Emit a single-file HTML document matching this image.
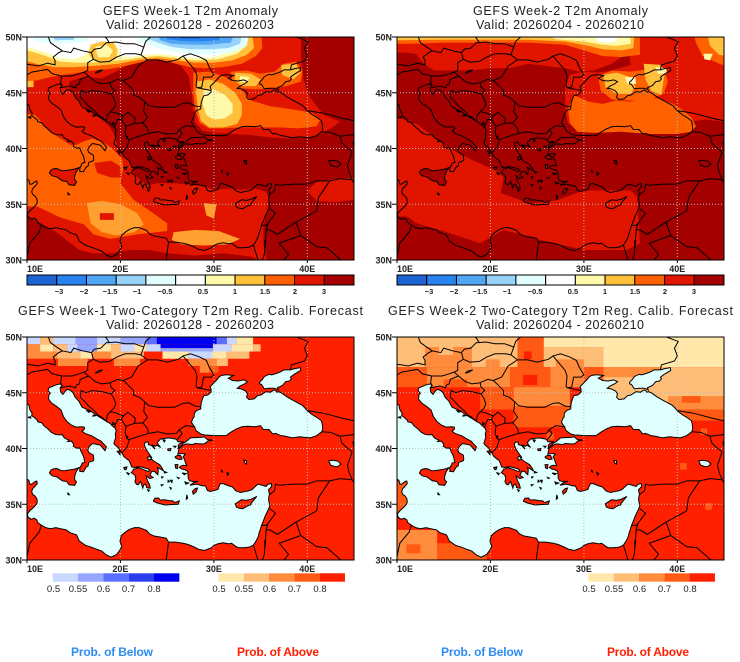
<!DOCTYPE html>
<html><head><meta charset="utf-8">
<style>
html,body{margin:0;padding:0;background:#fff}
svg{display:block}
text{font-family:"Liberation Sans",Arial,sans-serif;fill:#222}
</style></head>
<body>
<svg width="740" height="662" viewBox="0 0 740 662">
<defs>
<g id="seas">
<path vector-effect="non-scaling-stroke" d="M9,44.2 L9.8,44.1 10.2,43.9 10.3,43.5 10.55,43.15 10.5,42.95 10.75,42.8 11.1,42.55 11.15,42.4 11.6,42.3 11.8,42.05 12.25,41.75 12.6,41.45 13.05,41.25 13.55,41.22 13.75,41.25 14.0,40.95 14.3,40.82 14.5,40.75 14.35,40.62 14.75,40.66 15.0,40.4 14.95,40.2 15.3,40.03 15.65,40.05 15.8,39.7 16.05,39.3 16.15,38.9 16.2,38.75 15.9,38.7 15.85,38.55 15.65,38.25 15.65,37.95 16.05,37.92 16.3,38.3 16.55,38.45 16.6,38.75 17.1,38.9 17.15,39.05 17.1,39.4 16.6,39.65 16.5,39.9 16.65,40.15 17.0,40.45 17.3,40.4 17.85,40.3 18.05,40.1 18.35,39.8 18.45,40.0 18.5,40.15 18.1,40.5 17.95,40.65 17.5,40.85 16.9,41.15 16.2,41.35 15.9,41.55 16.15,41.75 16.15,41.9 15.9,41.95 15.25,41.92 14.75,42.1 14.3,42.4 13.9,42.85 13.65,43.45 13.2,43.75 12.6,44.1 12.3,44.45 12.35,44.8 12.5,44.95 12.25,45.2 12.35,45.45 12.65,45.55 13.1,45.7 13.55,45.8 13.75,45.65 13.55,45.45 13.6,45.1 13.85,44.85 14.05,45.1 14.3,45.3 14.55,45.25 14.9,45.05 15.15,44.6 15.55,44.25 15.9,43.7 16.45,43.5 17.0,43.25 17.5,42.95 18.1,42.65 18.55,42.4 18.9,42.25 19.1,42.05 19.4,41.85 19.55,41.6 19.45,41.3 19.5,41.0 19.4,40.75 19.3,40.45 19.45,40.3 19.8,40.05 20.05,39.7 20.2,39.55 20.35,39.3 20.7,39.05 20.9,38.95 21.05,38.7 21.2,38.35 21.55,38.3 21.8,38.35 21.7,38.2 21.4,38.15 21.3,37.95 21.15,37.85 21.55,37.6 21.65,37.3 21.55,37.05 21.7,36.8 21.9,36.75 22.15,37.05 22.4,36.45 22.5,36.75 22.7,36.8 22.8,36.5 23.0,36.45 23.2,36.45 23.1,36.8 22.9,37.1 22.75,37.55 23.15,37.3 23.5,37.4 23.15,37.6 23.35,37.95 23.65,37.95 23.75,37.85 24.0,37.65 24.05,38.05 23.95,38.3 24.2,38.2 24.6,38.0 24.5,38.2 24.2,38.55 23.7,38.8 23.3,39.05 23.0,38.95 22.9,39.2 23.1,39.3 23.3,39.1 23.35,39.2 23.0,39.6 22.7,40.0 22.55,40.35 22.65,40.55 22.95,40.6 23.0,40.35 23.35,40.25 23.7,39.95 23.45,40.3 23.75,40.2 23.9,40.3 24.3,40.1 24.05,40.35 23.95,40.55 24.3,40.85 24.6,40.9 25.2,40.95 25.9,40.85 26.05,40.75 26.15,40.6 26.8,40.6 26.35,40.45 26.2,40.3 26.2,40.05 26.25,39.95 26.15,39.5 26.6,39.55 26.95,39.5 26.7,39.25 26.85,39.05 26.95,38.75 27.1,38.45 26.75,38.5 26.5,38.45 26.3,38.3 26.6,38.15 26.9,38.1 27.2,37.95 27.25,37.6 27.25,37.35 27.4,37.1 27.7,37.05 28.3,37.05 27.85,36.95 27.45,36.7 28.1,36.8 28.4,36.75 28.8,36.65 29.1,36.65 29.3,36.25 29.6,36.15 30.15,36.25 30.45,36.35 30.55,36.6 30.7,36.85 31.0,36.85 31.6,36.65 32.0,36.55 32.35,36.2 32.85,36.05 33.4,36.15 33.7,36.2 34.05,36.3 34.45,36.6 34.7,36.8 35.0,36.75 35.6,36.6 35.8,36.8 36.15,36.85 36.2,36.6 35.85,36.3 35.95,35.9 35.85,35.5 35.9,35.2 36.0,34.9 35.85,34.55 35.5,33.95 35.3,33.5 35.1,33.1 35.0,32.8 34.85,32.45 34.75,32.1 34.55,31.75 34.25,31.35 33.8,31.15 33.2,31.1 32.6,31.1 32.3,31.25 31.9,31.5 31.6,31.45 31.0,31.55 30.4,31.45 30.0,31.3 29.75,31.1 29.0,30.85 28.4,30.95 27.8,31.2 27.2,31.4 26.7,31.5 25.9,31.6 25.15,31.6 24.9,31.95 24.3,32.05 23.6,32.15 23.1,32.35 22.8,32.65 22.0,32.9 21.5,32.9 21.0,32.75 20.6,32.55 20.1,32.2 19.95,31.7 20.15,31.2 19.95,30.9 19.6,30.5 19.0,30.25 18.5,30.45 18.0,30.8 17.5,30.95 16.9,31.15 16.3,31.3 15.6,31.7 15.3,32.25 14.6,32.45 14.2,32.7 13.6,32.8 13.1,32.9 12.5,32.8 12.0,32.9 11.5,33.15 11.15,33.35 11.05,33.6 10.75,33.75 10.45,33.65 10.1,33.85 10.05,34.15 10.35,34.45 10.75,34.75 11.05,35.05 11.1,35.25 11.05,35.5 10.85,35.75 10.65,35.85 10.5,36.1 10.6,36.4 10.85,36.6 11.1,36.85 11.05,37.08 10.9,37.05 10.5,36.8 10.3,36.8 10.2,37.15 9.9,37.3 9,37.3 Z"/>
<path vector-effect="non-scaling-stroke" d="M29.05,41.2 L28.6,41.3 28.1,41.6 27.95,41.9 27.6,42.35 27.75,42.7 27.9,42.85 27.9,43.15 28.15,43.4 28.6,43.55 28.6,43.75 28.65,44.1 28.8,44.5 28.95,44.75 29.35,44.8 29.7,45.05 29.7,45.3 29.6,45.55 29.95,45.85 30.25,46.1 30.55,46.4 30.8,46.55 31.2,46.6 31.5,46.6 32.1,46.55 31.55,46.3 32.0,46.1 32.6,46.05 33.2,46.15 33.6,46.0 33.3,45.8 32.8,45.6 32.5,45.4 32.9,45.35 33.4,45.15 33.6,44.9 33.5,44.6 33.75,44.4 34.3,44.45 34.7,44.75 35.05,44.8 35.4,45.0 35.6,45.1 36.05,45.05 36.45,45.25 36.6,45.2 36.75,45.05 36.95,45.1 37.3,44.95 37.8,44.65 38.3,44.4 38.85,44.15 39.5,43.85 40.0,43.4 40.5,43.05 41.0,42.8 41.5,42.5 41.6,42.2 41.65,41.75 41.55,41.5 41.0,41.15 40.3,40.95 39.7,41.0 39.2,41.05 38.4,40.95 37.65,41.1 37.2,41.15 36.6,41.35 36.3,41.3 35.9,41.7 35.3,41.7 35.0,42.05 34.4,41.95 33.6,42.0 33.0,41.95 32.4,41.75 31.8,41.45 31.3,41.15 30.6,41.15 30.0,41.15 29.35,41.2 Z"/>
<path vector-effect="non-scaling-stroke" d="M35.1,45.75 L35.4,45.35 35.9,45.4 36.45,45.4 36.65,45.35 36.9,45.25 36.8,45.45 37.35,45.65 37.7,46.0 38.1,46.05 38.3,46.25 38.2,46.4 38.6,46.65 39.3,47.0 39.25,47.25 38.6,47.15 38.2,47.05 37.5,47.05 37.2,46.9 36.75,46.75 36.2,46.6 35.9,46.65 35.4,46.45 35.2,46.2 34.9,45.95 34.9,45.8 Z"/>
<path vector-effect="non-scaling-stroke" d="M26.2,40.05 L26.4,40.2 26.6,40.35 26.7,40.45 27.0,40.6 27.5,40.95 27.9,40.98 28.6,41.0 29.0,41.05 29.1,40.95 29.3,40.8 29.9,40.75 29.4,40.7 29.05,40.45 28.8,40.4 28.0,40.45 27.7,40.35 27.3,40.4 27.0,40.4 26.7,40.3 26.4,40.05 Z"/>
<path vector-effect="non-scaling-stroke" d="M21.8,38.35 L22.2,38.35 22.6,38.25 22.95,38.2 23.15,38.0 22.9,37.95 22.5,38.1 22.0,38.25 21.75,38.3 Z"/>
<path vector-effect="non-scaling-stroke" d="M42.3,38.9 L42.8,38.95 43.3,38.85 43.6,38.6 43.2,38.35 42.9,38.4 42.5,38.5 Z M33.2,38.95 L33.5,38.9 33.5,38.6 33.35,38.65 Z M31.4,37.85 L31.6,37.75 31.45,37.6 Z M30.85,38.05 L30.95,37.85 30.8,37.95 Z M17.3,46.75 L17.6,46.95 18.1,47.05 17.7,46.85 Z M44.9,40.6 L45.4,40.45 45.2,40.2 44.95,40.25 Z M35.45,31.75 L35.55,31.75 35.45,31.1 Z M20.7,41.1 L20.8,41.1 20.75,40.95 Z M19.2,42.35 L19.4,42.2 19.15,42.15 Z"/>
</g>
<g id="isles">
<path id="sicily" vector-effect="non-scaling-stroke" d="M12.4,37.8 L12.55,38.05 12.75,38.15 13.1,38.2 13.35,38.15 13.7,38.0 14.1,38.02 14.6,38.08 15.1,38.15 15.55,38.28 15.25,37.9 15.1,37.5 15.1,37.2 15.3,37.0 15.1,36.7 14.5,36.75 14.25,37.05 13.8,37.1 13.2,37.45 12.7,37.55 Z"/>
<path vector-effect="non-scaling-stroke" d="M23.55,35.35 L23.7,35.55 24.1,35.55 24.25,35.37 24.7,35.4 25.2,35.33 25.6,35.3 25.8,35.15 26.3,35.3 26.2,35.0 25.5,34.98 24.8,34.93 24.0,35.1 23.55,35.25 Z"/>
<path vector-effect="non-scaling-stroke" d="M32.3,35.05 L32.5,35.15 32.95,35.4 33.5,35.35 34.0,35.45 34.6,35.7 34.0,35.1 33.95,34.95 33.6,34.85 33.1,34.6 32.7,34.65 32.4,34.75 Z"/>
<path vector-effect="non-scaling-stroke" d="M27.7,36.15 L28.0,36.4 28.25,36.45 28.1,36.1 27.8,35.9 Z M25.85,39.25 L26.15,39.4 26.45,39.35 26.6,39.05 26.3,39.0 25.9,39.15 Z M25.85,38.55 L26.15,38.55 26.1,38.2 25.9,38.25 Z M26.6,37.8 L27.05,37.75 26.85,37.65 Z M25.05,39.95 L25.4,40.0 25.35,39.8 25.1,39.82 Z M24.55,40.78 L24.8,40.75 24.7,40.58 Z M25.35,37.15 L25.55,37.15 25.5,36.95 Z M19.65,39.75 L19.95,39.8 19.95,39.45 Z M20.35,38.3 L20.7,38.35 20.6,38.1 20.45,38.1 Z M20.65,37.85 L20.95,37.75 20.85,37.65 Z M27.1,35.85 L27.2,35.55 27.05,35.45 Z M24.7,37.95 L24.95,37.85 24.7,37.8 Z M25.1,37.15 L25.25,37.05 25.1,36.98 Z M24.35,36.75 L24.55,36.75 24.4,36.65 Z M22.9,36.3 L23.1,36.25 23.0,36.15 Z M10.1,42.8 L10.4,42.85 10.4,42.72 Z M14.35,36.05 L14.55,35.85 14.4,35.85 Z M25.7,40.2 L25.95,40.2 25.85,40.1 Z M16.4,43.4 L16.9,43.35 16.6,43.25 Z M17.1,43.0 L17.4,42.95 17.05,42.9 Z M26.9,37.0 L27.3,36.9 27.0,36.8 Z M25.3,36.5 L25.45,36.45 25.4,36.35 Z M24.4,37.45 L24.55,37.45 24.45,37.35 Z M26.1,37.4 L26.3,37.35 26.2,37.3 Z"/>
</g>
<path id="bord" vector-effect="non-scaling-stroke" d="M10,47.55 L10.5,47.5 11.2,47.4 12.2,47.65 13.0,47.5 13.0,47.9 12.8,48.2 13.4,48.6 13.8,48.75 M13.8,48.75 L13.0,49.2 12.5,49.5 12.2,50.2 M13.8,48.75 L14.7,48.6 15.0,49.0 16.0,48.75 16.9,48.6 M16.9,48.6 L17.2,48.9 17.9,49.0 18.5,49.5 18.8,49.5 M18.8,49.5 L18.5,49.9 18.0,50.2 M18.8,49.5 L19.5,49.55 20.5,49.4 21.5,49.4 22.5,49.1 M17.1,48.0 L17.8,47.75 18.8,47.8 19.6,48.2 20.5,48.5 21.6,48.5 22.2,48.4 M22.2,48.4 L22.5,49.1 M22.5,49.1 L22.7,49.6 23.5,50.2 M16.9,48.6 L17.1,48.0 16.5,47.7 16.5,47.0 16.1,46.85 M9,46.4 L10,46.6 10.5,46.85 11.5,47.0 12.2,47.1 12.7,46.7 13.7,46.5 M13.7,46.5 L14.8,46.5 15.6,46.7 16.1,46.85 M13.7,46.5 L13.6,45.9 13.8,45.6 M16.1,46.85 L16.6,46.5 M16.6,46.5 L15.7,46.2 15.6,45.8 15.3,45.7 15.2,45.45 14.6,45.6 13.6,45.45 M16.6,46.5 L17.3,46.0 18.0,45.8 18.9,45.9 M18.9,45.9 L19.0,45.5 19.4,45.2 19.0,44.9 M19.0,44.9 L18.0,45.1 17.0,45.2 16.3,45.0 15.8,45.2 15.7,44.6 16.2,44.2 16.6,43.8 17.2,43.4 17.6,43.0 18.0,42.8 18.5,42.45 M19.0,44.9 L19.3,44.5 19.5,44.0 19.3,43.6 18.9,43.3 M18.9,43.3 L18.6,43.0 18.5,42.45 M18.9,43.3 L19.5,43.2 20.3,42.9 20.1,42.6 M20.1,42.6 L19.7,42.6 19.4,42.0 19.4,41.85 M20.1,42.6 L20.6,42.0 20.5,41.4 20.7,40.9 20.95,40.8 M20.95,40.8 L20.7,40.1 20.2,39.65 M20.95,40.8 L22.0,41.1 23.0,41.35 24.0,41.5 25.0,41.3 26.0,41.35 26.3,41.7 M26.3,41.7 L26.6,41.35 26.3,41.0 26.1,40.8 M26.3,41.7 L27.0,42.05 27.5,42.0 28.0,41.95 M20.1,42.6 L20.3,42.9 20.8,43.25 21.6,42.7 21.5,42.25 M20.6,42.0 L21.5,42.25 22.4,42.3 M22.4,42.3 L22.9,41.8 23.0,41.35 M22.4,42.3 L22.9,42.8 22.5,43.3 22.6,44.2 M22.6,44.2 L22.0,44.6 21.4,44.8 21.4,45.2 20.7,45.8 20.3,46.1 M18.9,45.9 L19.7,46.2 20.3,46.1 M20.3,46.1 L21.2,46.4 21.9,47.4 22.9,47.95 M22.2,48.4 L22.9,47.95 M22.9,47.95 L24.0,47.95 25.0,47.75 26.2,48.0 26.7,48.3 M26.7,48.3 L27.3,47.7 28.0,47.0 28.2,46.5 28.1,45.6 28.2,45.45 M28.2,45.45 L29.7,45.2 M26.7,48.3 L27.5,48.5 28.5,48.2 29.2,47.9 29.5,47.3 30.0,46.6 29.7,46.4 28.9,46.4 28.7,45.5 28.2,45.45 M22.6,44.2 L23.0,43.85 24.0,43.7 25.0,43.7 25.8,43.7 26.7,44.05 27.3,44.1 28.0,43.8 28.6,43.75 M41.55,41.5 L42.5,41.45 43.5,41.1 M43.5,41.1 L43.7,40.5 44.2,40.1 44.8,39.7 M44.8,39.7 L44.3,38.5 44.5,37.8 44.8,37.2 M44.8,37.2 L43.5,37.3 42.4,37.1 M42.4,37.1 L41.0,37.1 40.0,36.8 38.5,36.8 37.0,36.7 36.6,36.8 36.5,36.2 36.0,35.9 M36.0,34.6 L36.6,34.2 35.9,33.4 35.6,33.1 M35.1,33.1 L35.6,33.1 35.8,33.3 35.6,32.7 36.0,32.7 36.8,32.3 38.8,33.4 M38.8,33.4 L41.0,34.4 41.2,35.6 42.4,37.1 M38.8,33.4 L39.3,32.2 M39.3,32.2 L37.0,31.5 38.0,30.5 37.5,30.0 37.0,29.5 M35.6,32.7 L35.5,31.5 35.4,30.5 35.0,29.5 M34.25,31.3 L34.9,29.5 M39.3,32.2 L41,31.2 42.1,31.1 44.7,29.2 M44.8,37.2 L45.3,36.5 M25.15,31.6 L24.9,30.0 24.9,29 M11.55,33.15 L11.3,32.5 10.3,31.5 10.0,30.3 M40.0,43.4 L41.5,43.2 42.5,43.0 43.8,42.7 45.5,42.4 M43.5,41.1 L44.5,41.2 45.5,41.3 M38.2,47.1 L38.3,47.5 39.7,47.85 40.0,48.3 39.7,49.0 40.1,49.6 38.2,50.2"/>
</defs>

<!-- ===================== PANEL 1 ===================== -->
<text x="103" y="15" font-size="12.5" textLength="175">GEFS Week-1 T2m Anomaly</text>
<text x="106" y="29" font-size="12.5" textLength="168">Valid: 20260128 - 20260203</text>
<svg x="27" y="37" width="327" height="223" viewBox="10 -50 35 20" preserveAspectRatio="none">
<g transform="scale(1,-1)">
<rect x="9" y="29" width="37" height="22" fill="#e11400"/>
<polygon fill="#a50000" points="14.5,46.0 16,46.4 18,46.3 19.5,46.9 21,47.6 23,47.9 25,47.9 26.5,47.4 27.3,46.5 27.6,45 27.8,43.5 28,42.3 28.8,41.6 30,41.4 32,41.3 34,41.2 36,41.0 38,40.9 40,41.0 41.5,41.3 42.5,41.8 43.5,42.4 45,42.6 46,42.6 46,37.4 43,37.3 41,37.0 40,36.2 41,35.3 43,35.2 46,35.5 46,29 36,29 35.5,30.6 35.3,31.5 35.3,33 35.7,34.5 35.9,35.5 35.6,36.1 34.5,36.4 33,36.3 31.5,36.4 30,36.3 29,36.6 28,36.7 27,36.8 25.5,36.9 24,36.9 23,36.7 22.3,37 21.6,37.6 21.2,38.3 20.8,39 20.2,39.6 19.6,40.4 19.3,41.3 18.8,42.0 18.0,42.6 17.2,43.1 16.3,43.6 15.5,44.2 15.0,44.9 14.5,45.5"/>
<polygon fill="#a50000" points="9,29 9,34.0 10,34.0 11.5,33.3 13,32.6 14.5,31.6 15.6,30.9 17,30.6 19,30.6 21,30.9 23,30.9 25,30.6 28,30.4 31,30.6 34,30.3 36,29.5 36,29"/>
<polygon fill="#a50000" points="39.5,51 46,51 46,42.6 43.5,42.4 41.8,43.0 40.8,44.0 40.0,45.0 39.6,46.2 39.4,47.5 39.3,49"/>
<polygon fill="#ff6000" points="9,43.3 10.9,43.0 11.6,42.3 12.3,41.6 13.2,41.1 14,40.7 14.7,40.3 15.2,40.3 16,40.6 17,40.9 18,40.6 18.8,40.2 19.5,39.7 20.2,39.0 20.3,38.2 20,36.9 21.4,35.4 23,34.5 25,33.3 25,32.6 21.8,32.3 18.9,31.9 17.1,32.3 16.1,33.2 13.6,33.8 11.1,34.8 9,34.8"/>
<polygon fill="#e11400" points="17.2,38.7 19,38.9 20.0,38.4 20.1,37.4 19,37.4 17.5,37.8"/>
<polygon fill="#ffa030" points="16.4,35.1 18,35.3 20,35.0 21.8,34.2 22.5,33.2 21.5,32.5 19.5,32.2 18,32.5 16.8,33.3"/>
<polygon fill="#e11400" points="17.8,34.2 19.3,34.2 19.3,33.6 17.8,33.6"/>
<polygon fill="#ffa030" points="25.7,32.5 28,32.7 30.5,32.6 32.8,31.9 31.5,31.4 29,31.3 26.5,31.4 25.5,31.8"/>
<polygon fill="#ffa030" points="28.9,35.1 30.3,35.0 30,33.7 29.2,34.0"/>
<polygon fill="#ffc03c" points="9,46.6 10.7,46.6 10.7,45.5 9,45.5"/>
<polygon fill="#ff6000" points="27.8,46.8 29.5,46.9 31,46.5 32.5,45.8 33.2,45.0 34,44.3 36,43.8 38.5,43.5 40.5,43.2 41.4,42.6 41,42.0 39,41.8 37,41.9 35,41.9 33,41.9 31,41.8 29.5,41.8 28.5,42.3 28.0,43.5 27.8,45"/>
<polygon fill="#ffc03c" points="28.2,46.0 29.5,46.2 31,45.8 32.3,45.0 33,44 33,43 32.5,42.2 31,41.9 29.5,41.9 28.6,42.5 28.3,43.5 28.1,45"/>
<polygon fill="#fffaaa" points="28.9,45.2 30,45.3 31.2,44.8 32,44 32,43.2 31.2,42.7 30,42.6 29.2,43 28.8,44"/>
<polygon fill="#ff6000" points="31.8,46.9 33.5,47.0 35,46.7 36.5,46.9 37.5,47.6 38.8,47.8 39.5,47 39.3,46.0 37.8,45.6 36.2,45.4 34.5,45.3 33,45.4 32,45.9"/>
<polygon fill="#ffc03c" points="32.3,46.8 34,46.7 35,46.2 34.5,45.6 33,45.6 32.2,46.1"/>
<polygon fill="#ffc03c" points="37.2,47.5 38.8,47.6 39.3,46.8 38.5,46.2 37.3,46.6"/>
<polygon fill="#fffaaa" points="32.8,46.5 33.8,46.4 33.5,45.9 32.8,46.0"/>
<polygon fill="#ff6000" points="9,51 35,51 35.2,49 34.5,48.3 33,47.6 31,47.3 29,47.2 27.5,47.3 26,47.6 24.5,47.9 23,47.9 21.5,47.6 20,47.3 18.5,47.1 17,47.0 15.5,46.8 14,46.6 12.5,46.4 11,46.1 9,46.0"/>
<polygon fill="#ffc03c" points="9,51 34,51 34.3,49 33.5,48.4 32,47.9 30,47.7 28,47.7 26,47.9 24,48.1 22.5,48 21,47.8 19.8,47.6 18.5,47.5 17,47.4 15,47.3 13,47.3 11.5,47.5 10,47.8 9,47.9"/>
<polygon fill="#fffaaa" points="9,51 33.5,51 33.5,49.2 32.5,48.5 30.5,48.0 28,47.9 26,48.1 24,48.3 22.5,48.2 21,48.0 19.8,47.9 18.5,47.8 17,47.7 15,47.7 13.5,47.8 12,48.3 10.5,48.7 9,48.9"/>
<polygon fill="#ffffff" points="9,51 33,51 32.8,49.3 31.5,48.6 30,48.2 28,48.1 26,48.3 24,48.5 22.5,48.4 21,48.2 20,48.3 19.8,48.9 19.3,49.5 18,49.6 16.8,49.2 16.3,48.4 15,48.0 13.5,48.1 12,48.6 10.5,49.0 9,49.2"/>
<polygon fill="#ffc03c" points="16.8,49.3 18,49.6 19.3,49.5 19.7,48.8 19.5,48.0 18.5,47.7 17.3,47.8 16.6,48.4"/>
<polygon fill="#fffaaa" points="17.3,49.1 18.5,49.3 19.2,48.8 18.8,48.2 17.6,48.2"/>
<polygon fill="#e1ffff" points="21.5,51 34,51 33.5,49.2 32.2,48.7 30.5,48.5 28.5,48.5 26.5,48.6 24.5,48.9 23,49.3 22,49.7"/>
<polygon fill="#96d2fa" points="22.5,51 33.2,51 32.8,49.4 31.5,49.0 29.5,48.9 27.5,48.9 25.5,49.1 24,49.5 23,49.8"/>
<polygon fill="#50a5f5" points="23.3,51 32.6,51 31.8,49.5 29.5,49.3 27.5,49.3 25.5,49.4 24.3,49.7"/>
<polygon fill="#2882f0" points="24.2,51 31.5,51 30.5,49.7 28.5,49.6 26.5,49.65 25,49.8"/>
<polygon fill="#1c64d2" points="25.5,51 29.5,51 28.5,49.85 26.5,49.85"/>
<polygon fill="#e1ffff" points="10.5,51 17,51 16.5,49.6 14,49.4 12,49.5 10.8,49.7"/>
<polygon fill="#96d2fa" points="12,51 15.5,51 15,49.75 13,49.7"/>
<use href="#sicily" fill="#e11400"/>
</g></svg>
<path d="M120.4,37V260M213.9,37V260M307.3,37V260M27,92.75H354M27,148.5H354M27,204.25H354" stroke="#bdbdbd" stroke-width="1" stroke-dasharray="1,2" fill="none"/>
<svg x="27" y="37" width="327" height="223" viewBox="10 -50 35 20" preserveAspectRatio="none">
<g transform="scale(1,-1)" fill="none" stroke="#000" stroke-width="1">
<use href="#seas"/><use href="#isles"/><use href="#bord"/>
</g></svg>
<rect x="27" y="37" width="327" height="223" fill="none" stroke="#000" stroke-width="1"/>

<!-- ===================== PANEL 2 ===================== -->
<text x="473" y="15" font-size="12.5" textLength="175">GEFS Week-2 T2m Anomaly</text>
<text x="476" y="29" font-size="12.5" textLength="168">Valid: 20260204 - 20260210</text>
<svg x="397" y="37" width="327" height="223" viewBox="10 -50 35 20" preserveAspectRatio="none">
<g transform="scale(1,-1)">
<rect x="9" y="29" width="37" height="22" fill="#a50000"/>
<polygon fill="#e11400" points="9,51 34.5,51 34.5,48.5 33,47.6 31,47.0 29.5,46.9 28,47.2 26,47.4 24,47.6 22,47.2 20,47.2 18,47.0 16,47.0 14,47.0 13,47.5 12,48.5 11,48.6 9,48.6"/>
<polygon fill="#e11400" points="34.5,51 46,51 46,43 45,44 43,45 41,45.5 39,46.2 37,47 35,47.5"/>
<polygon fill="#e11400" points="28.5,46.6 30,46.9 31.5,46.8 33,47 35,47.5 37,47 39,46.2 41,45.5 43,45 45,44 46,43 46,42.3 43,42.6 41.5,42.4 41.5,41.8 40,41.6 37,41.5 34,41.6 31,41.5 29.3,41.6 28.3,42.3 28,43.5 28,45.5"/>
<polygon fill="#e11400" points="9,43.1 12.1,42.2 15.4,40.1 18.2,38.9 20.7,38.0 21.4,37.4 21.1,36.0 24.3,35.05 27.1,35.35 30,36.25 35,36.25 35.7,35.65 36,31.5 34.6,30.9 30,30.9 25.3,31.8 21.4,32.7 18.9,31.5 15.7,32.4 12.1,33.3 11.1,33.9 9,33.9"/>
<use href="#sicily" fill="#a50000"/>
<polygon fill="#ff6000" points="28.9,44.8 30.5,44.2 32,44.0 33.5,44.3 35,44.2 36.5,44.6 38,44.5 39.5,44 40.5,43.5 41.5,42.8 42,42.0 41.5,41.5 40,41.3 37,41.3 34,41.5 31,41.4 29.3,41.5 28.5,42.3 28.3,43.5"/>
<polygon fill="#ff6000" points="31.5,46.5 33,47 35,46.9 37,47.1 38.5,47.2 39,46 38.5,44.9 37,44.4 35,44.3 33,44.4 31.8,45.2"/>
<polygon fill="#ffc03c" points="32.1,46.6 33.5,46.8 35,46.4 35.5,45.5 35,44.9 33.5,44.9 32.3,45.5"/>
<polygon fill="#ffc03c" points="36.4,47.6 38.3,47.5 38.6,46.5 38.3,44.8 37.2,45.2 36.6,46.2"/>
<polygon fill="#fffaaa" points="34.4,46.4 35.5,46.4 35.6,45.8 34.6,45.8"/>
<polygon fill="#fffaaa" points="37.7,47.3 38.8,47.2 38.9,46.7 37.9,46.7"/>
<polygon fill="#ffffff" points="34.8,46.3 35.3,46.3 35.3,46.0 34.9,46.0"/>
<polygon fill="#ff6000" points="9,51 36,51 36,48.4 34,48.2 32,48.3 30,48.8 28,49.3 24,49.5 20,49.5 15,49.5 12,49.4 9,49.4"/>
<polygon fill="#ffc03c" points="9,51 35.5,51 35.3,49 34,48.8 32,48.9 30.5,49.2 28,49.6 24,49.75 20,49.75 15,49.75 9,49.7"/>
<polygon fill="#fffaaa" points="24,51 35,51 35,49.4 33.5,49.2 32,49.3 30,49.6 27,49.8"/>
<polygon fill="#ffffff" points="30.5,51 33.7,51 33.5,49.6 32.5,49.5 31.5,49.6"/>
<polygon fill="#ff6000" points="41.5,51 46,51 46,47.2 44.5,47.6 42.7,48.3 42,49.5"/>
<polygon fill="#ffc03c" points="43,51 46,51 46,48.2 44.5,48.4 43.5,49.2"/>
<polygon fill="#fffaaa" points="42.8,48.5 43.8,48.5 43.5,47.9 42.9,48.0"/>
</g></svg>
<path d="M490.4,37V260M583.9,37V260M677.3,37V260M397,92.75H724M397,148.5H724M397,204.25H724" stroke="#bdbdbd" stroke-width="1" stroke-dasharray="1,2" fill="none"/>
<svg x="397" y="37" width="327" height="223" viewBox="10 -50 35 20" preserveAspectRatio="none">
<g transform="scale(1,-1)" fill="none" stroke="#000" stroke-width="1">
<use href="#seas"/><use href="#isles"/><use href="#bord"/>
</g></svg>
<rect x="397" y="37" width="327" height="223" fill="none" stroke="#000" stroke-width="1"/>

<!-- ===================== PANEL 3 ===================== -->
<text x="18" y="315" font-size="12.5" textLength="345">GEFS Week-1 Two-Category T2m Reg. Calib. Forecast</text>
<text x="106" y="329" font-size="12.5" textLength="168">Valid: 20260128 - 20260203</text>
<svg x="27" y="337" width="327" height="223" viewBox="10 -50 35 20" preserveAspectRatio="none">
<g transform="scale(1,-1)">
<rect x="9" y="29" width="37" height="22" fill="#ff2000"/>
<g>
<rect x="9" y="49.35" width="2.4" height="1.7" fill="#c8d8ff"/>
<rect x="11.4" y="49.35" width="1.4" height="1.7" fill="#ffbe78"/>
<rect x="12.8" y="49.35" width="2.4" height="1.7" fill="#c8d8ff"/>
<rect x="15.2" y="49.35" width="2.3" height="1.7" fill="#96a5ff"/>
<rect x="17.5" y="49.35" width="2.5" height="1.7" fill="#c8d8ff"/>
<rect x="20" y="49.35" width="2.8" height="1.7" fill="#96a5ff"/>
<rect x="22.8" y="49.35" width="1.1" height="1.7" fill="#5a6eff"/>
<rect x="23.9" y="49.35" width="6.4" height="1.7" fill="#0000f0"/>
<rect x="30.3" y="49.35" width="1.1" height="1.7" fill="#5a6eff"/>
<rect x="31.4" y="49.35" width="1.0" height="1.7" fill="#c8d8ff"/>
<rect x="32.4" y="49.35" width="1.8" height="1.7" fill="#ffe8aa"/>
<rect x="9" y="48.7" width="2.4" height="0.65" fill="#ff8c3c"/>
<rect x="11.4" y="48.7" width="1.4" height="0.65" fill="#ffe8aa"/>
<rect x="12.8" y="48.7" width="1.5" height="0.65" fill="#ffbe78"/>
<rect x="14.3" y="48.7" width="1.1" height="0.65" fill="#c8d8ff"/>
<rect x="15.4" y="48.7" width="2.1" height="0.65" fill="#96a5ff"/>
<rect x="17.5" y="48.7" width="1.5" height="0.65" fill="#ffe8aa"/>
<rect x="19" y="48.7" width="1" height="0.65" fill="#ffbe78"/>
<rect x="20" y="48.7" width="1.5" height="0.65" fill="#c8d8ff"/>
<rect x="21.5" y="48.7" width="1.3" height="0.65" fill="#ffe8aa"/>
<rect x="22.8" y="48.7" width="1.5" height="0.65" fill="#c8d8ff"/>
<rect x="24.3" y="49.0" width="5.6" height="0.35" fill="#0000f0"/>
<rect x="24.3" y="48.7" width="5.6" height="0.3" fill="#96a5ff"/>
<rect x="29.9" y="48.7" width="2" height="0.65" fill="#c8d8ff"/>
<rect x="31.9" y="48.7" width="2.3" height="0.65" fill="#ffe8aa"/>
<rect x="34.2" y="48.7" width="0.8" height="0.65" fill="#ffbe78"/>
<rect x="9" y="48.05" width="4.2" height="0.65" fill="#ff8c3c"/>
<rect x="13.2" y="48.05" width="2.5" height="0.65" fill="#ffbe78"/>
<rect x="15.7" y="48.05" width="1.3" height="0.65" fill="#ffe8aa"/>
<rect x="17" y="48.05" width="2" height="0.65" fill="#ff8c3c"/>
<rect x="19" y="48.05" width="3.5" height="0.65" fill="#ffbe78"/>
<rect x="24.5" y="48.05" width="2.8" height="0.65" fill="#ffe8aa"/>
<rect x="27.3" y="48.05" width="2.5" height="0.65" fill="#c8d8ff"/>
<rect x="29.8" y="48.05" width="1.5" height="0.65" fill="#ffe8aa"/>
<rect x="31.3" y="48.05" width="2.5" height="0.65" fill="#ffbe78"/>
<rect x="13.3" y="47.4" width="3.2" height="0.65" fill="#ff8c3c"/>
<rect x="19.3" y="47.4" width="2.8" height="0.65" fill="#ff8c3c"/>
<rect x="27.3" y="47.4" width="3" height="0.65" fill="#ff8c3c"/>
<rect x="30.3" y="47.4" width="1.2" height="0.65" fill="#ffbe78"/>
<rect x="28.5" y="46.8" width="1" height="0.6" fill="#ff8c3c"/>
<rect x="29.5" y="46.8" width="1" height="0.6" fill="#ff5a14"/>
</g>
<use href="#seas" fill="#e0ffff"/>
<use href="#isles" fill="#ff2000"/>
</g></svg>
<path d="M120.4,337V560M213.9,337V560M307.3,337V560M27,392.75H354M27,448.5H354M27,504.25H354" stroke="#bdbdbd" stroke-width="1" stroke-dasharray="1,2" fill="none"/>
<svg x="27" y="337" width="327" height="223" viewBox="10 -50 35 20" preserveAspectRatio="none">
<g transform="scale(1,-1)" fill="none" stroke="#000" stroke-width="1">
<use href="#seas"/><use href="#isles"/><use href="#bord"/>
</g></svg>
<rect x="27" y="337" width="327" height="223" fill="none" stroke="#000" stroke-width="1"/>

<!-- ===================== PANEL 4 ===================== -->
<text x="388" y="315" font-size="12.5" textLength="345">GEFS Week-2 Two-Category T2m Reg. Calib. Forecast</text>
<text x="476" y="329" font-size="12.5" textLength="168">Valid: 20260204 - 20260210</text>
<svg x="397" y="337" width="327" height="223" viewBox="10 -50 35 20" preserveAspectRatio="none">
<g transform="scale(1,-1)">
<rect x="9" y="29" width="37" height="22" fill="#ff2000"/>
<rect x="9" y="49.1" width="16.7" height="2" fill="#ffbe78"/>
<rect x="25.7" y="49.1" width="20.3" height="2" fill="#ffe8aa"/>
<rect x="9" y="47.3" width="4" height="1.8" fill="#ffbe78"/>
<rect x="13" y="47.3" width="5" height="1.8" fill="#ff8c3c"/>
<rect x="14.5" y="48.4" width="1.5" height="0.7" fill="#ffbe78"/>
<rect x="18" y="47.3" width="4.9" height="1.8" fill="#ffbe78"/>
<rect x="19.5" y="47.3" width="1.5" height="0.7" fill="#ff8c3c"/>
<rect x="22.9" y="47.3" width="2.8" height="3.7" fill="#ff5a14"/>
<rect x="23.6" y="48.0" width="0.8" height="0.7" fill="#ff2000"/>
<rect x="25.7" y="47.3" width="6.4" height="1.8" fill="#ffbe78"/>
<rect x="27" y="47.3" width="3" height="0.7" fill="#ff8c3c"/>
<rect x="32.1" y="47.3" width="13.9" height="1.8" fill="#ffe8aa"/>
<rect x="9" y="45.5" width="4.2" height="1.8" fill="#ff5a14"/>
<rect x="13.2" y="45.5" width="8.9" height="1.8" fill="#ff8c3c"/>
<rect x="15" y="45.5" width="2.5" height="0.7" fill="#ff5a14"/>
<rect x="22.1" y="45.5" width="4.3" height="1.8" fill="#ff5a14"/>
<rect x="23.5" y="45.7" width="1.5" height="0.9" fill="#ff2000"/>
<rect x="26.4" y="45.5" width="3.6" height="1.8" fill="#ff8c3c"/>
<rect x="30" y="45.5" width="2.1" height="1.8" fill="#ff5a14"/>
<rect x="32.1" y="44.3" width="6.1" height="3" fill="#ffbe78"/>
<rect x="32.1" y="46.4" width="6.1" height="0.9" fill="#ff8c3c"/>
<rect x="38.2" y="43.5" width="7.8" height="3.8" fill="#ffbe78"/>
<rect x="39" y="43.5" width="7" height="1.2" fill="#ff8c3c"/>
<rect x="40.5" y="44.1" width="2" height="0.6" fill="#ff5a14"/>
<rect x="18.9" y="43.5" width="3.6" height="2" fill="#ff5a14"/>
<rect x="22.5" y="43.8" width="6" height="1.7" fill="#ff8c3c"/>
<rect x="22.5" y="41.9" width="6" height="1.9" fill="#ff5a14"/>
<rect x="38" y="42.5" width="8" height="1" fill="#ff5a14"/>
<rect x="9" y="29" width="5.3" height="3.7" fill="#ff8c3c"/>
<rect x="11" y="30.6" width="1.5" height="0.8" fill="#ff5a14"/>
<rect x="14.3" y="29" width="5.3" height="2.5" fill="#ff5a14"/>
<rect x="9" y="34" width="2.2" height="3" fill="#ff5a14"/>
<rect x="42.5" y="41.2" width="0.7" height="0.6" fill="#ff5a14"/>
<rect x="43" y="34.5" width="0.7" height="0.6" fill="#ff5a14"/>
<rect x="40.3" y="38.1" width="0.7" height="0.6" fill="#ff5a14"/>
<rect x="20.5" y="44.7" width="0.8" height="0.6" fill="#ff5a14"/>
<rect x="26" y="40.8" width="0.8" height="0.6" fill="#ff5a14"/>
<use href="#seas" fill="#e0ffff"/>
<use href="#isles" fill="#ff2000"/>
</g></svg>
<path d="M490.4,337V560M583.9,337V560M677.3,337V560M397,392.75H724M397,448.5H724M397,504.25H724" stroke="#bdbdbd" stroke-width="1" stroke-dasharray="1,2" fill="none"/>
<svg x="397" y="337" width="327" height="223" viewBox="10 -50 35 20" preserveAspectRatio="none">
<g transform="scale(1,-1)" fill="none" stroke="#000" stroke-width="1">
<use href="#seas"/><use href="#isles"/><use href="#bord"/>
</g></svg>
<rect x="397" y="337" width="327" height="223" fill="none" stroke="#000" stroke-width="1"/>

<!-- ===================== AXIS LABELS ===================== -->
<g font-size="9" font-weight="bold">
<g text-anchor="end">
<text x="22" y="40.5">50N</text><text x="22" y="96.3">45N</text><text x="22" y="152">40N</text><text x="22" y="207.8">35N</text><text x="22" y="263.5">30N</text>
<text x="392" y="40.5">50N</text><text x="392" y="96.3">45N</text><text x="392" y="152">40N</text><text x="392" y="207.8">35N</text><text x="392" y="263.5">30N</text>
<text x="22" y="340.5">50N</text><text x="22" y="396.3">45N</text><text x="22" y="452">40N</text><text x="22" y="507.8">35N</text><text x="22" y="563.5">30N</text>
<text x="392" y="340.5">50N</text><text x="392" y="396.3">45N</text><text x="392" y="452">40N</text><text x="392" y="507.8">35N</text><text x="392" y="563.5">30N</text>
</g>
<text x="27" y="272">10E</text><text x="397" y="272">10E</text><text x="27" y="572">10E</text><text x="397" y="572">10E</text>
<g text-anchor="middle">
<text x="120.4" y="272">20E</text><text x="213.9" y="272">30E</text><text x="307.3" y="272">40E</text>
<text x="490.4" y="272">20E</text><text x="583.9" y="272">30E</text><text x="677.3" y="272">40E</text>
<text x="120.4" y="572">20E</text><text x="213.9" y="572">30E</text><text x="307.3" y="572">40E</text>
<text x="490.4" y="572">20E</text><text x="583.9" y="572">30E</text><text x="677.3" y="572">40E</text>
</g>
</g>
<path d="M22,37H27M22,92.75H27M22,148.5H27M22,204.25H27M22,260H27M392,37H397M392,92.75H397M392,148.5H397M392,204.25H397M392,260H397M22,337H27M22,392.75H27M22,448.5H27M22,504.25H27M22,560H27M392,337H397M392,392.75H397M392,448.5H397M392,504.25H397M392,560H397M27,260V263M120.4,260V263M213.9,260V263M307.3,260V263M397,260V263M490.4,260V263M583.9,260V263M677.3,260V263M27,560V563M120.4,560V563M213.9,560V563M307.3,560V563M397,560V563M490.4,560V563M583.9,560V563M677.3,560V563" stroke="#000" stroke-width="1"/>

<!-- ===================== TOP COLORBARS ===================== -->
<g stroke="#000" stroke-width="1">
<rect x="27" y="275" width="29.73" height="10" fill="#1c64d2"/>
<rect x="56.73" y="275" width="29.73" height="10" fill="#2882f0"/>
<rect x="86.45" y="275" width="29.73" height="10" fill="#50a5f5"/>
<rect x="116.18" y="275" width="29.73" height="10" fill="#96d2fa"/>
<rect x="145.91" y="275" width="29.73" height="10" fill="#e1ffff"/>
<rect x="175.64" y="275" width="29.73" height="10" fill="#ffffff"/>
<rect x="205.36" y="275" width="29.73" height="10" fill="#fffaaa"/>
<rect x="235.09" y="275" width="29.73" height="10" fill="#ffc03c"/>
<rect x="264.82" y="275" width="29.73" height="10" fill="#ff6000"/>
<rect x="294.55" y="275" width="29.73" height="10" fill="#e11400"/>
<rect x="324.27" y="275" width="29.73" height="10" fill="#a50000"/>
</g>
<g stroke="#000" stroke-width="1">
<rect x="397" y="275" width="29.73" height="10" fill="#1c64d2"/>
<rect x="426.73" y="275" width="29.73" height="10" fill="#2882f0"/>
<rect x="456.45" y="275" width="29.73" height="10" fill="#50a5f5"/>
<rect x="486.18" y="275" width="29.73" height="10" fill="#96d2fa"/>
<rect x="515.91" y="275" width="29.73" height="10" fill="#e1ffff"/>
<rect x="545.64" y="275" width="29.73" height="10" fill="#ffffff"/>
<rect x="575.36" y="275" width="29.73" height="10" fill="#fffaaa"/>
<rect x="605.09" y="275" width="29.73" height="10" fill="#ffc03c"/>
<rect x="634.82" y="275" width="29.73" height="10" fill="#ff6000"/>
<rect x="664.55" y="275" width="29.73" height="10" fill="#e11400"/>
<rect x="694.27" y="275" width="29.73" height="10" fill="#a50000"/>
</g>
<g font-size="7.5" font-weight="bold" text-anchor="middle">
<text x="59" y="294">−3</text><text x="84" y="294">−2</text><text x="110" y="294">−1.5</text><text x="137" y="294">−1</text><text x="165" y="294">−0.5</text><text x="203" y="294">0.5</text><text x="235" y="294">1</text><text x="265" y="294">1.5</text><text x="295" y="294">2</text><text x="324" y="294">3</text>
<text x="429" y="294">−3</text><text x="454" y="294">−2</text><text x="480" y="294">−1.5</text><text x="507" y="294">−1</text><text x="535" y="294">−0.5</text><text x="573" y="294">0.5</text><text x="605" y="294">1</text><text x="635" y="294">1.5</text><text x="665" y="294">2</text><text x="694" y="294">3</text>
</g>

<!-- ===================== BOTTOM COLORBARS ===================== -->
<rect x="52.7" y="573.3" width="25.33" height="8.4" fill="#c8d8ff"/>
<rect x="78.03" y="573.3" width="25.33" height="8.4" fill="#96a5ff"/>
<rect x="103.36" y="573.3" width="25.33" height="8.4" fill="#5a6eff"/>
<rect x="128.69" y="573.3" width="25.33" height="8.4" fill="#2a3ef0"/>
<rect x="154.02" y="573.3" width="25.33" height="8.4" fill="#0000f0"/>
<rect x="218.3" y="573.3" width="25.33" height="8.4" fill="#ffe8aa"/>
<rect x="243.63" y="573.3" width="25.33" height="8.4" fill="#ffbe78"/>
<rect x="268.96" y="573.3" width="25.33" height="8.4" fill="#ff8c3c"/>
<rect x="294.29" y="573.3" width="25.33" height="8.4" fill="#ff5a14"/>
<rect x="319.62" y="573.3" width="25.33" height="8.4" fill="#ff2000"/>
<rect x="588.3" y="573.3" width="25.33" height="8.4" fill="#ffe8aa"/>
<rect x="613.63" y="573.3" width="25.33" height="8.4" fill="#ffbe78"/>
<rect x="638.96" y="573.3" width="25.33" height="8.4" fill="#ff8c3c"/>
<rect x="664.29" y="573.3" width="25.33" height="8.4" fill="#ff5a14"/>
<rect x="689.62" y="573.3" width="25.33" height="8.4" fill="#ff2000"/>
<g font-size="9.5" text-anchor="middle">
<text x="53.5" y="592">0.5</text><text x="78" y="592">0.55</text><text x="103.5" y="592">0.6</text><text x="128.5" y="592">0.7</text><text x="154" y="592">0.8</text>
<text x="219" y="592">0.5</text><text x="244" y="592">0.55</text><text x="269.5" y="592">0.6</text><text x="294.5" y="592">0.7</text><text x="320" y="592">0.8</text>
<text x="589" y="592">0.5</text><text x="614" y="592">0.55</text><text x="639.5" y="592">0.6</text><text x="664.5" y="592">0.7</text><text x="690" y="592">0.8</text>
</g>

<!-- ===================== PROB LABELS ===================== -->
<g font-size="12" font-weight="bold">
<text x="71" y="656" textLength="82" style="fill:#2e8cf0">Prob. of Below</text>
<text x="237" y="656" textLength="82" style="fill:#ff1e00">Prob. of Above</text>
<text x="441" y="656" textLength="82" style="fill:#2e8cf0">Prob. of Below</text>
<text x="607" y="656" textLength="82" style="fill:#ff1e00">Prob. of Above</text>
</g>
</svg>
</body></html>
